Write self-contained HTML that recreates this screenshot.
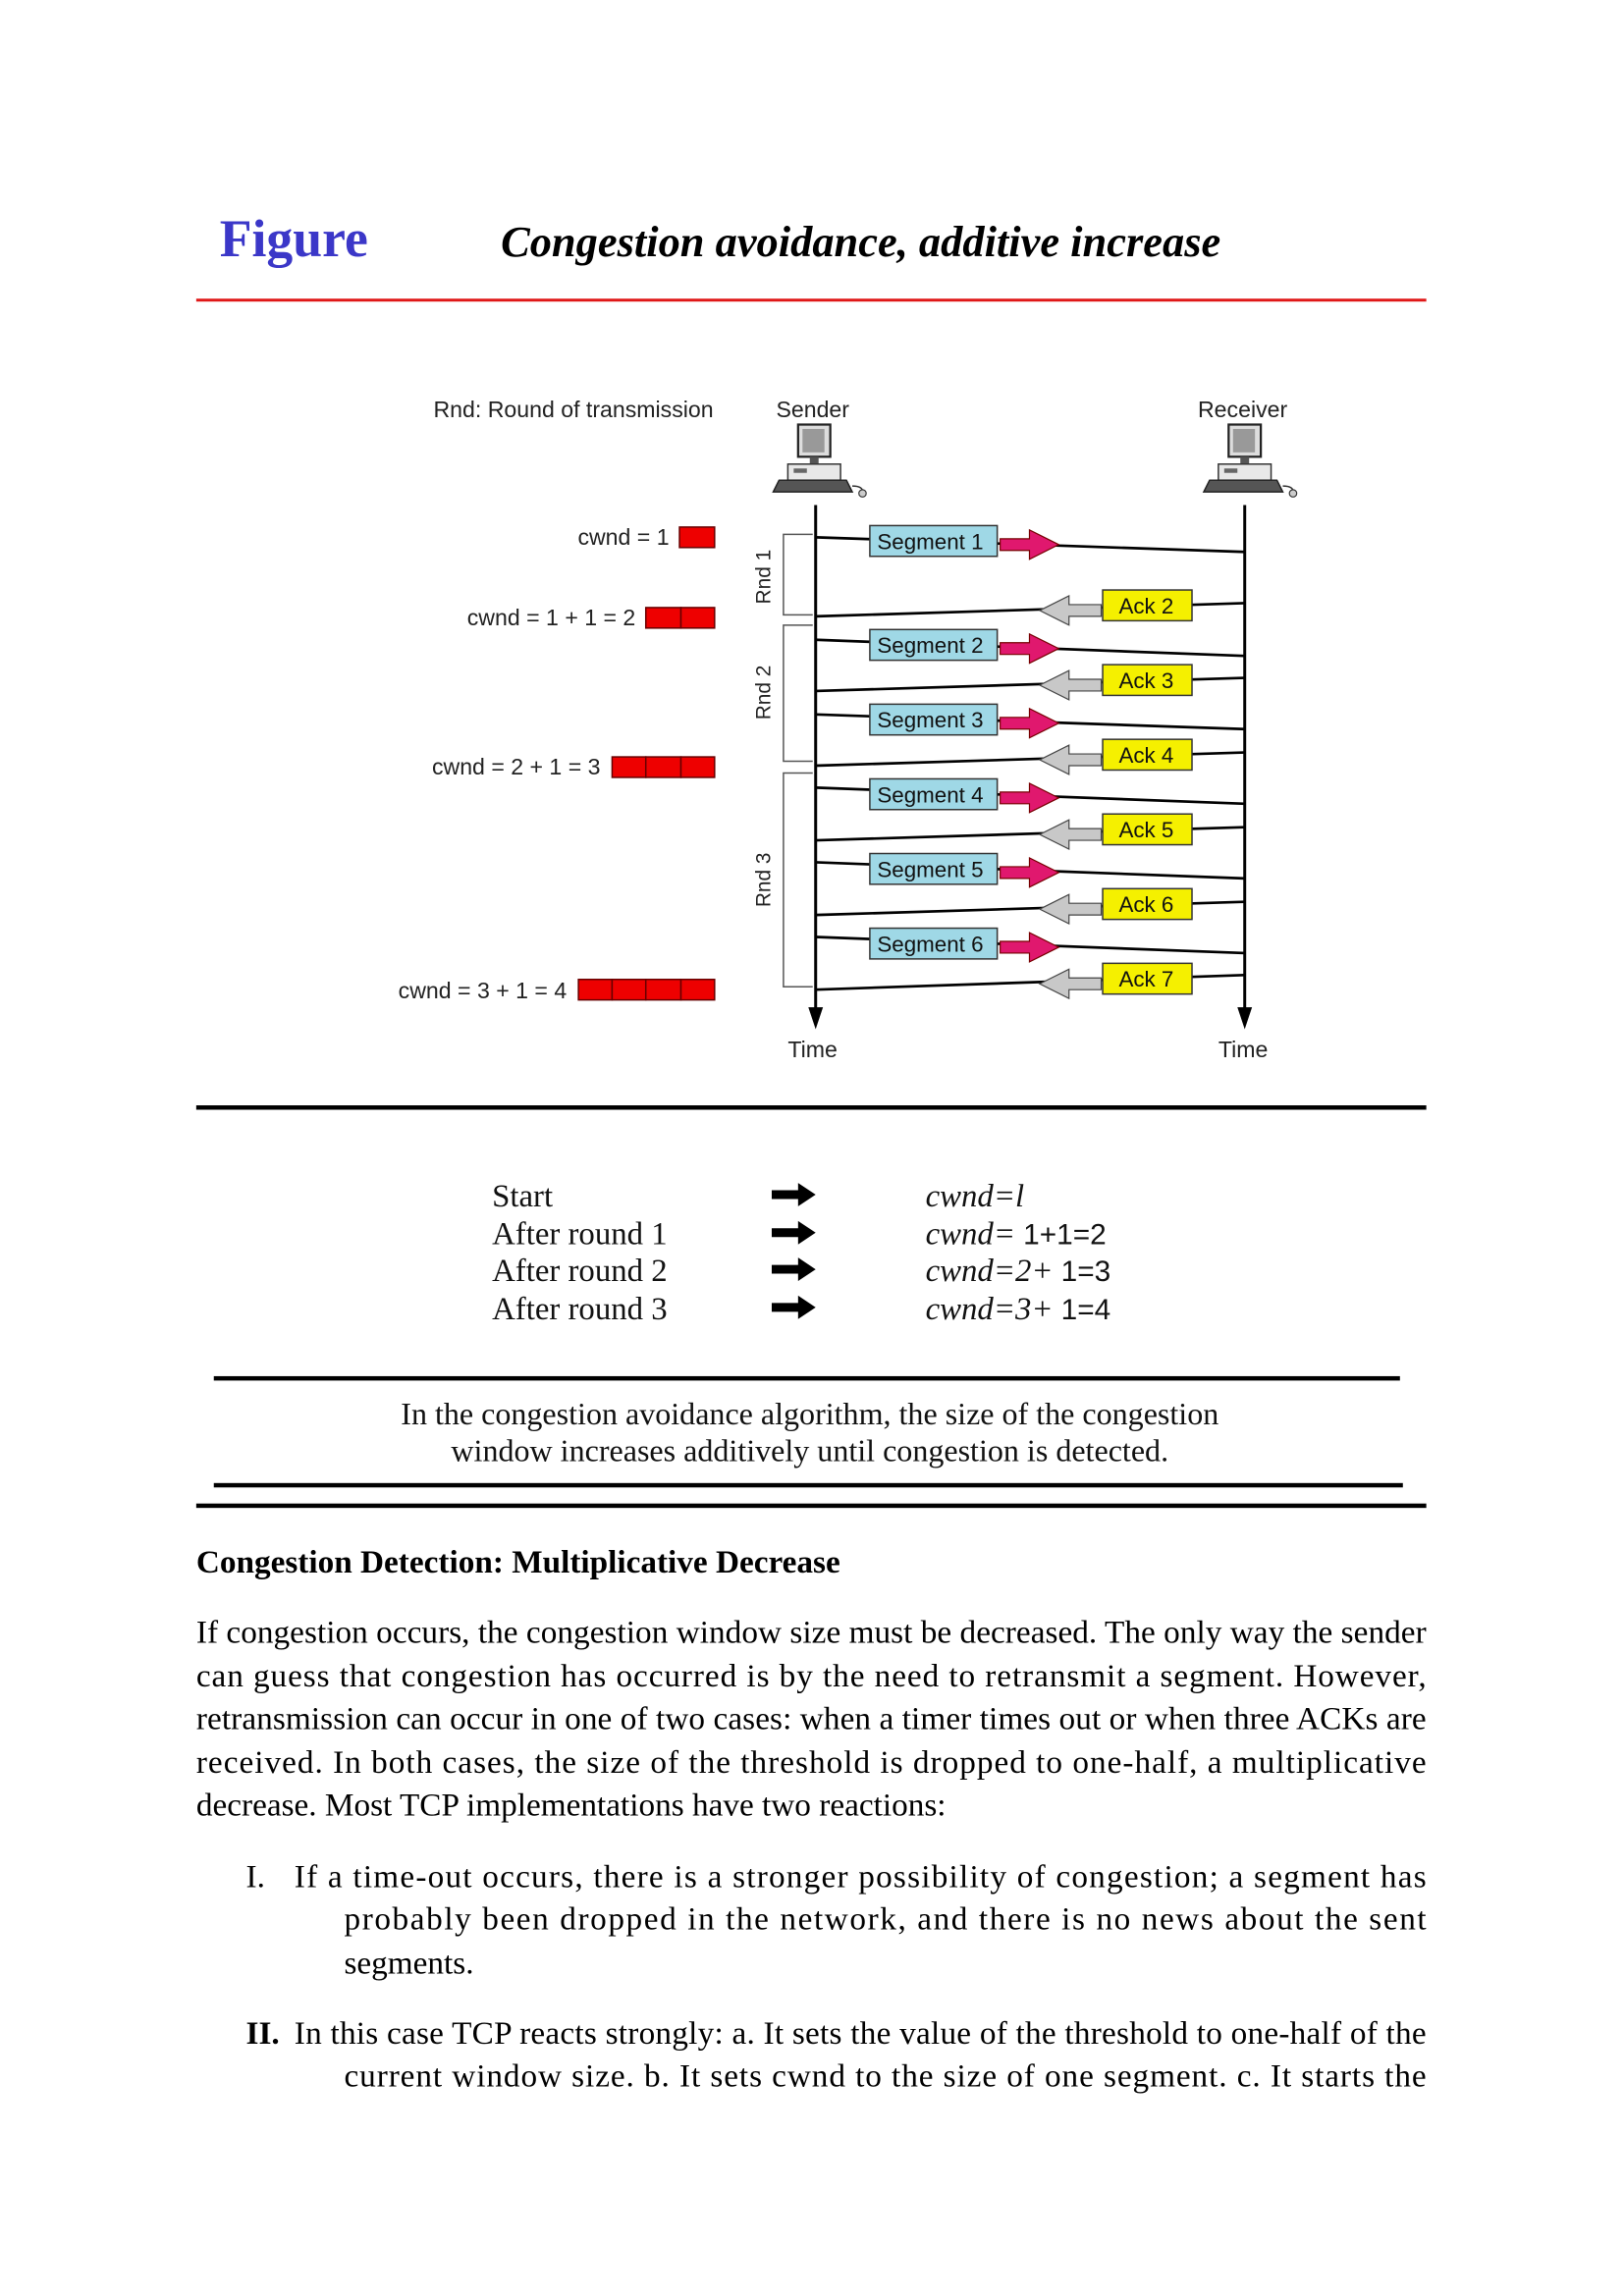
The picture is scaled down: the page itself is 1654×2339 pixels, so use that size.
<!DOCTYPE html>
<html><head><meta charset="utf-8"><style>html,body{margin:0;padding:0;background:#fff}svg{display:block}</style></head>
<body>
<svg width="1654" height="2339" viewBox="0 0 1109 1568.3" xmlns="http://www.w3.org/2000/svg">
<defs>
<g id="pc">
<rect x="-11" y="-55" width="22" height="22" fill="#ddd" stroke="#222" stroke-width="1.5"/>
<rect x="-8" y="-52" width="15" height="16" fill="#999"/>
<rect x="-3" y="-33" width="6" height="5" fill="#555"/>
<rect x="-18" y="-28" width="36" height="11" fill="#e8e8e8" stroke="#333" stroke-width="1"/>
<rect x="-14" y="-25" width="9" height="3" fill="#666"/>
<path d="M-24,-17 L22,-17 L26,-9 L-28,-9 Z" fill="#555" stroke="#222"/>
<path d="M26,-13 q8,0 7,5" fill="none" stroke="#333"/><circle cx="33" cy="-8" r="2.5" fill="#ccc" stroke="#333" stroke-width="0.8"/>
</g>
</defs>
<rect width="1109" height="1569" fill="#fff"/>
<text x="150" y="175" font-family="Liberation Serif, serif" font-weight="bold" font-size="36" fill="#3b37c8">Figure</text>
<text x="342" y="175" font-family="Liberation Serif, serif" font-weight="bold" font-style="italic" font-size="29.8" fill="#000">Congestion avoidance, additive increase</text>
<rect x="134" y="204" width="840" height="2" fill="#e01818"/>

<g font-family="Liberation Sans, sans-serif" font-size="15.5" fill="#222">
<text x="296" y="285">Rnd: Round of transmission</text>
<text x="530" y="285">Sender</text>
<text x="818" y="285">Receiver</text>
<text x="538" y="722">Time</text>
<text x="832" y="722">Time</text>
</g>
<use href="#pc" x="556" y="345"/>
<use href="#pc" x="850" y="345"/>
<g stroke="#000" stroke-width="2">
<line x1="557" y1="345" x2="557" y2="692"/>
<line x1="850" y1="345" x2="850" y2="692"/>
</g>
<path d="M552,688 L557,703 L562,688 Z"/><path d="M845,688 L850,703 L855,688 Z"/>

<g stroke="#555" stroke-width="1" fill="none">
<path d="M555,365 H535 V420 H555"/>
<path d="M555,427 H535 V520 H555"/>
<path d="M555,528 H535 V674 H555"/>
</g>
<g font-family="Liberation Sans, sans-serif" font-size="14" fill="#222">
<text transform="translate(526,394) rotate(-90)" text-anchor="middle">Rnd 1</text>
<text transform="translate(526,473) rotate(-90)" text-anchor="middle">Rnd 2</text>
<text transform="translate(526,601) rotate(-90)" text-anchor="middle">Rnd 3</text>
</g>

<g font-family="Liberation Sans, sans-serif" font-size="15.5" fill="#222" text-anchor="end">
<text x="457" y="372">cwnd = 1</text>
<text x="434" y="427">cwnd = 1 + 1 = 2</text>
<text x="410" y="529">cwnd = 2 + 1 = 3</text>
<text x="387" y="682">cwnd = 3 + 1 = 4</text>
</g>
<g fill="#e00" stroke="#600" stroke-width="1">
<rect x="464" y="360" width="24" height="14"/>
<rect x="441" y="415" width="24" height="14"/><rect x="465" y="415" width="23" height="14"/>
<rect x="418" y="517" width="23" height="14"/><rect x="441" y="517" width="24" height="14"/><rect x="465" y="517" width="23" height="14"/>
<rect x="395" y="669" width="23" height="14"/><rect x="418" y="669" width="23" height="14"/><rect x="441" y="669" width="24" height="14"/><rect x="465" y="669" width="23" height="14"/>
</g>

<g stroke="#000" stroke-width="1.8">
<line x1="557" y1="367" x2="850" y2="377"/>
<line x1="850" y1="412" x2="557" y2="421"/>
<line x1="557" y1="437" x2="850" y2="448"/>
<line x1="850" y1="463" x2="557" y2="472"/>
<line x1="557" y1="488" x2="850" y2="498"/>
<line x1="850" y1="514" x2="557" y2="523"/>
<line x1="557" y1="538" x2="850" y2="549"/>
<line x1="850" y1="565" x2="557" y2="574"/>
<line x1="557" y1="589" x2="850" y2="600"/>
<line x1="850" y1="616" x2="557" y2="625"/>
<line x1="557" y1="640" x2="850" y2="651"/>
<line x1="850" y1="666" x2="557" y2="676"/>
</g>
<g font-family="Liberation Sans, sans-serif" font-size="15" fill="#111">
<g transform="translate(0,0)"><rect x="594" y="359" width="87" height="21" fill="#9fd8e6" stroke="#333"/><text x="599" y="375">Segment 1</text><path d="M683,368 h20 v-6 l20,10 l-20,10 v-6 h-20 z" fill="#e0186e" stroke="#700" stroke-width="0.8"/></g>
<g transform="translate(0,71)"><rect x="594" y="359" width="87" height="21" fill="#9fd8e6" stroke="#333"/><text x="599" y="375">Segment 2</text><path d="M683,368 h20 v-6 l20,10 l-20,10 v-6 h-20 z" fill="#e0186e" stroke="#700" stroke-width="0.8"/></g>
<g transform="translate(0,122)"><rect x="594" y="359" width="87" height="21" fill="#9fd8e6" stroke="#333"/><text x="599" y="375">Segment 3</text><path d="M683,368 h20 v-6 l20,10 l-20,10 v-6 h-20 z" fill="#e0186e" stroke="#700" stroke-width="0.8"/></g>
<g transform="translate(0,173)"><rect x="594" y="359" width="87" height="21" fill="#9fd8e6" stroke="#333"/><text x="599" y="375">Segment 4</text><path d="M683,368 h20 v-6 l20,10 l-20,10 v-6 h-20 z" fill="#e0186e" stroke="#700" stroke-width="0.8"/></g>
<g transform="translate(0,224)"><rect x="594" y="359" width="87" height="21" fill="#9fd8e6" stroke="#333"/><text x="599" y="375">Segment 5</text><path d="M683,368 h20 v-6 l20,10 l-20,10 v-6 h-20 z" fill="#e0186e" stroke="#700" stroke-width="0.8"/></g>
<g transform="translate(0,275)"><rect x="594" y="359" width="87" height="21" fill="#9fd8e6" stroke="#333"/><text x="599" y="375">Segment 6</text><path d="M683,368 h20 v-6 l20,10 l-20,10 v-6 h-20 z" fill="#e0186e" stroke="#700" stroke-width="0.8"/></g>

<g transform="translate(0,0)"><rect x="753" y="403" width="61" height="21" fill="#f5f000" stroke="#333"/><text x="764" y="419">Ack 2</text><path d="M752,413 h-22 v-6 l-20,10 l20,10 v-6 h22 z" fill="#c8c8c8" stroke="#444" stroke-width="0.8"/></g>
<g transform="translate(0,51)"><rect x="753" y="403" width="61" height="21" fill="#f5f000" stroke="#333"/><text x="764" y="419">Ack 3</text><path d="M752,413 h-22 v-6 l-20,10 l20,10 v-6 h22 z" fill="#c8c8c8" stroke="#444" stroke-width="0.8"/></g>
<g transform="translate(0,102)"><rect x="753" y="403" width="61" height="21" fill="#f5f000" stroke="#333"/><text x="764" y="419">Ack 4</text><path d="M752,413 h-22 v-6 l-20,10 l20,10 v-6 h22 z" fill="#c8c8c8" stroke="#444" stroke-width="0.8"/></g>
<g transform="translate(0,153)"><rect x="753" y="403" width="61" height="21" fill="#f5f000" stroke="#333"/><text x="764" y="419">Ack 5</text><path d="M752,413 h-22 v-6 l-20,10 l20,10 v-6 h22 z" fill="#c8c8c8" stroke="#444" stroke-width="0.8"/></g>
<g transform="translate(0,204)"><rect x="753" y="403" width="61" height="21" fill="#f5f000" stroke="#333"/><text x="764" y="419">Ack 6</text><path d="M752,413 h-22 v-6 l-20,10 l20,10 v-6 h22 z" fill="#c8c8c8" stroke="#444" stroke-width="0.8"/></g>
<g transform="translate(0,255)"><rect x="753" y="403" width="61" height="21" fill="#f5f000" stroke="#333"/><text x="764" y="419">Ack 7</text><path d="M752,413 h-22 v-6 l-20,10 l20,10 v-6 h22 z" fill="#c8c8c8" stroke="#444" stroke-width="0.8"/></g>
</g>

<rect x="134" y="755" width="840" height="3" fill="#000"/>

<g font-family="Liberation Serif, serif" font-size="22" fill="#111">
<text x="336" y="824">Start</text>
<text x="336" y="850">After round 1</text>
<text x="336" y="875">After round 2</text>
<text x="336" y="901">After round 3</text>
<text x="632" y="824" font-style="italic">cwnd=l</text>
<text x="632" y="850"><tspan font-style="italic">cwnd=</tspan> <tspan font-family="Liberation Sans, sans-serif" font-size="20">1+1=2</tspan></text>
<text x="632" y="875"><tspan font-style="italic">cwnd=2+</tspan> <tspan font-family="Liberation Sans, sans-serif" font-size="20">1=3</tspan></text>
<text x="632" y="901"><tspan font-style="italic">cwnd=3+</tspan> <tspan font-family="Liberation Sans, sans-serif" font-size="20">1=4</tspan></text>
</g>
<g fill="#000">
<path d="M527,813 h18 v-5 l12,8 l-12,8 v-5 h-18 z"/>
<path d="M527,839 h18 v-5 l12,8 l-12,8 v-5 h-18 z"/>
<path d="M527,864 h18 v-5 l12,8 l-12,8 v-5 h-18 z"/>
<path d="M527,890 h18 v-5 l12,8 l-12,8 v-5 h-18 z"/>
</g>
<rect x="146" y="940" width="810" height="3" fill="#000"/>
<g font-family="Liberation Serif, serif" font-size="21.5" fill="#111" text-anchor="middle">
<text x="553" y="973">In the congestion avoidance algorithm, the size of the congestion</text>
<text x="553" y="998">window increases additively until congestion is detected.</text>
</g>
<rect x="146" y="1013" width="812" height="3" fill="#000"/>
<rect x="134" y="1027" width="840" height="3" fill="#000"/>

<g font-family="Liberation Serif, serif" font-size="22.3" fill="#000">
<text x="134" y="1074" font-weight="bold">Congestion Detection: Multiplicative Decrease</text>
<text x="134" y="1122" textLength="840" lengthAdjust="spacing">If congestion occurs, the congestion window size must be decreased. The only way the sender</text>
<text x="134" y="1152" textLength="840" lengthAdjust="spacing">can guess that congestion has occurred is by the need to retransmit a segment. However,</text>
<text x="134" y="1181" textLength="840" lengthAdjust="spacing">retransmission can occur in one of two cases: when a timer times out or when three ACKs are</text>
<text x="134" y="1211" textLength="840" lengthAdjust="spacing">received. In both cases, the size of the threshold is dropped to one-half, a multiplicative</text>
<text x="134" y="1240">decrease. Most TCP implementations have two reactions:</text>
<text x="168" y="1289">I.</text>
<text x="201" y="1289" textLength="773" lengthAdjust="spacing">If a time-out occurs, there is a stronger possibility of congestion; a segment has</text>
<text x="235" y="1318" textLength="739" lengthAdjust="spacing">probably been dropped in the network, and there is no news about the sent</text>
<text x="235" y="1348">segments.</text>
<text x="168" y="1396" font-weight="bold">II.</text>
<text x="201" y="1396" textLength="773" lengthAdjust="spacing">In this case TCP reacts strongly: a. It sets the value of the threshold to one-half of the</text>
<text x="235" y="1425" textLength="739" lengthAdjust="spacing">current window size. b. It sets cwnd to the size of one segment. c. It starts the</text>
</g>
</svg>
</body></html>
